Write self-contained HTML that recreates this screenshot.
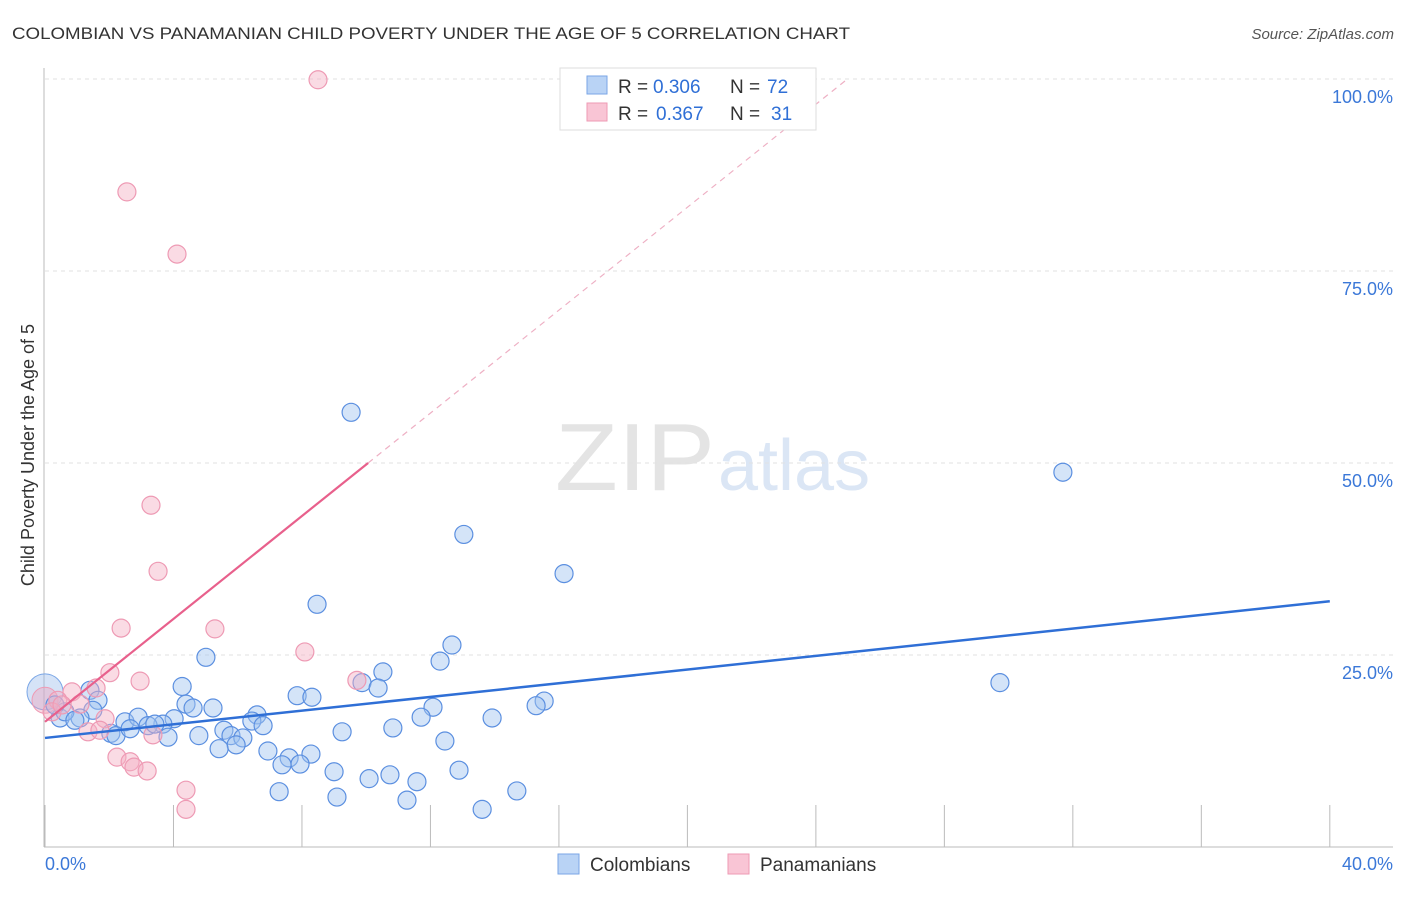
<!DOCTYPE html>
<html><head><meta charset="utf-8"><style>
body{margin:0;background:#fff;font-family:"Liberation Sans",sans-serif}
svg text{font-family:"Liberation Sans",sans-serif}
</style></head><body>
<svg id="c" width="1406" height="892">
<text x="12" y="39" font-size="17" fill="#333" textLength="838" lengthAdjust="spacingAndGlyphs">COLOMBIAN VS PANAMANIAN CHILD POVERTY UNDER THE AGE OF 5 CORRELATION CHART</text>
<text x="1394" y="39" font-size="15" fill="#555" font-style="italic" text-anchor="end">Source: ZipAtlas.com</text>
<text x="555" y="490" font-size="96" fill="#e4e4e4" textLength="160" lengthAdjust="spacingAndGlyphs" font-family="Liberation Serif">ZIP</text>
<text x="718" y="490" font-size="72" fill="#dbe6f5">atlas</text>
<text transform="translate(34,455) rotate(-90)" font-size="18" fill="#333" text-anchor="middle">Child Poverty Under the Age of 5</text>
<g id="grid"></g><g id="pts"></g><g id="lines"></g>
<g>
<rect x="560" y="68" width="256" height="62" fill="#fff" stroke="#ddd"/>
<rect x="587" y="76" width="20" height="18" fill="#b9d3f5" stroke="#7aa6e6"/>
<rect x="587" y="103" width="20" height="18" fill="#f9c5d5" stroke="#ee9ab4"/>
<text x="618" y="93" font-size="19" fill="#333">R =</text><text x="653" y="93" font-size="19" fill="#2f6fd6">0.306</text>
<text x="730" y="93" font-size="19" fill="#333">N =</text><text x="767" y="93" font-size="19" fill="#2f6fd6">72</text>
<text x="618" y="120" font-size="19" fill="#333">R =</text><text x="656" y="120" font-size="19" fill="#2f6fd6">0.367</text>
<text x="730" y="120" font-size="19" fill="#333">N =</text><text x="771" y="120" font-size="19" fill="#2f6fd6">31</text>
</g>
<g>
<rect x="558" y="854" width="21" height="20" fill="#b9d3f5" stroke="#7aa6e6"/>
<text x="590" y="871" font-size="19" fill="#333">Colombians</text>
<rect x="728" y="854" width="21" height="20" fill="#f9c5d5" stroke="#ee9ab4"/>
<text x="760" y="871" font-size="19" fill="#333">Panamanians</text>
</g>
</svg>
<script>
const xTicks=[0,40];
const yTicks=[25,50,75,100];
const blueX=[9.53,31.69,13.04,16.16,8.47,12.67,12.30,5.01,29.73,10.52,4.27,9.87,10.37,7.85,8.31,15.54,15.29,4.39,5.23,4.61,12.08,11.71,13.92,6.60,6.44,6.79,2.49,2.90,4.02,3.67,3.21,3.42,10.83,9.25,5.57,5.79,6.16,4.79,3.83,2.05,2.21,2.65,12.45,5.95,5.42,6.94,8.28,7.60,7.38,7.94,12.89,9.00,10.74,10.09,11.58,7.29,14.69,9.09,11.27,13.61,1.40,1.65,1.49,1.09,0.47,0.62,0.31,0.93];
const blueY=[56.6,48.8,40.7,35.6,31.6,26.3,24.2,24.7,21.4,22.8,20.9,21.4,20.7,19.7,19.5,19.0,18.4,18.6,18.1,18.1,18.2,16.9,16.8,17.2,16.4,15.8,16.3,16.9,16.7,16.0,15.8,16.0,15.5,15.0,15.2,14.5,14.2,14.5,14.3,14.8,14.5,15.4,13.8,13.3,12.8,12.5,12.1,11.6,10.7,10.8,10.0,9.8,9.4,8.9,8.5,7.2,7.3,6.5,6.1,4.9,20.4,19.1,17.8,16.8,16.8,17.6,18.5,16.5];
const pinkX=[8.50,2.55,4.11,3.30,3.52,2.37,5.29,8.09,2.02,2.96,9.71,1.59,0.84,1.09,0.40,1.87,1.34,1.71,3.36,2.24,2.65,2.77,3.18,4.39,4.39,0.22,0.53];
const pinkY=[99.9,85.3,77.2,44.5,35.9,28.5,28.4,25.4,22.7,21.6,21.7,20.7,20.2,18.6,19.1,16.7,15.0,15.2,14.6,11.7,11.1,10.4,9.9,7.4,4.9,17.6,18.5];
const blueTrend=[14.2,32.0];
const pinkTrend=[16.3,3.35];
const X=v=>45+v*32.12, Y=v=>847-v*7.68;
const NS="http://www.w3.org/2000/svg";
function mk(t,a,p){const e=document.createElementNS(NS,t);for(const k in a)e.setAttribute(k,a[k]);p.appendChild(e);return e;}
const g=document.getElementById('grid');
yTicks.forEach(v=>{
 const l=mk('line',{x1:45,x2:1393,y1:Y(v),y2:Y(v),stroke:'#e2e2e2','stroke-dasharray':'4,4'},g);
 
 
 const t=mk('text',{x:1393,y:Y(v)+24,'font-size':18,fill:'#3b78d8','text-anchor':'end'},g);t.textContent=v.toFixed(1)+'%';
 
 
});
mk('line',{x1:44,x2:44,y1:68,y2:847,stroke:'#bbb'},g);
mk('line',{x1:44,x2:1393,y1:847,y2:847,stroke:'#bbb'},g);
for(let i=0;i<=10;i++){mk('line',{x1:X(i*4),x2:X(i*4),y1:805,y2:847,stroke:'#bbb'},g);}
xTicks.forEach((v,i)=>{const t=mk('text',{x:i?1393:45,y:870,'font-size':18,fill:'#3b78d8','text-anchor':i?'end':'start'},g);t.textContent=v.toFixed(1)+'%';
 
 });
const p=document.getElementById('pts');
let c=mk('circle',{cx:X(0),cy:Y(20.2),r:18,fill:'rgba(150,185,235,0.4)',stroke:'#7aa6e6'},p);


c=mk('circle',{cx:X(0),cy:Y(19.1),r:13,fill:'rgba(240,160,185,0.4)',stroke:'#ee9ab4'},p);


blueX.forEach((v,i)=>{const e=mk('circle',{cx:X(v),cy:Y(blueY[i]),r:9,fill:'rgba(160,195,240,0.45)',stroke:'#5b8fe0','stroke-width':1.2},p);
 
 });
pinkX.forEach((v,i)=>{const e=mk('circle',{cx:X(v),cy:Y(pinkY[i]),r:9,fill:'rgba(245,175,195,0.45)',stroke:'#ee9ab4','stroke-width':1.2},p);
 
 });
const L=document.getElementById('lines');
let ln=mk('line',{x1:X(0),y1:Y(blueTrend[0]),x2:X(40),y2:Y(blueTrend[1]),stroke:'#2f6fd6','stroke-width':2.5},L);


const px2=(50-pinkTrend[0])/pinkTrend[1], px3=(100-pinkTrend[0])/pinkTrend[1];
ln=mk('line',{x1:X(0),y1:Y(pinkTrend[0]),x2:X(px2),y2:Y(50),stroke:'#e8608c','stroke-width':2.2},L);


ln=mk('line',{x1:X(px2),y1:Y(50),x2:X(px3),y2:Y(100),stroke:'#eeb0c4','stroke-width':1.2,'stroke-dasharray':'6,5'},L);


</script>
</body></html>
